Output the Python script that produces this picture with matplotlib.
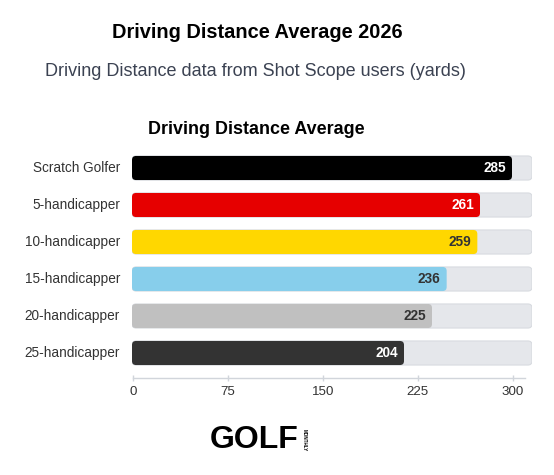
import matplotlib
matplotlib.use("Agg")
import matplotlib.pyplot as plt
from matplotlib.patches import FancyBboxPatch

categories = ["Scratch Golfer", "5-handicapper", "10-handicapper",
              "15-handicapper", "20-handicapper", "25-handicapper"]
values = [285, 261, 259, 236, 225, 204]
bar_colors = ["#000000", "#e60000", "#ffd700", "#87ceeb", "#c0c0c0", "#333333"]
label_colors = ["#ffffff", "#ffffff", "#333333", "#333333", "#333333", "#ffffff"]
track_max = 300
tick_values = [0, 75, 150, 225, 300]

W, H = 554, 475
plt.rcParams["font.family"] = ["Liberation Sans", "DejaVu Sans"]
fig = plt.figure(figsize=(W / 100, H / 100), dpi=100)

def fx(px):
    return px / W

def fy(py):
    return 1 - py / H

# titles
fig.text(fx(257), fy(33), "Driving Distance Average 2026", ha="center", va="center",
         fontsize=14.4, fontweight="bold", color="#000000")
fig.text(fx(255), fy(71), "Driving Distance data from Shot Scope users (yards)",
         ha="center", va="center", fontsize=13, color="#3b4252")
fig.text(fx(256), fy(129), "Driving Distance Average", ha="center", va="center",
         fontsize=12.9, fontweight="bold", color="#000000")

# main bar axes
left, right = 132, 532
top_px, bot_px = 149.5, 371.5
ax = fig.add_axes([fx(left), fy(bot_px), fx(right - left), (bot_px - top_px) / H])
ax.set_xlim(0, track_max)
ax.set_ylim(len(categories) - 0.5, -0.5)
ax.axis("off")

bar_h = 0.65
px_per_x = (right - left) / track_max
px_per_y = (bot_px - top_px) / len(categories)
r_px = 4
rx = r_px / px_per_x
aspect = (r_px / px_per_y) / rx

for i, (cat, v, c, lc) in enumerate(zip(categories, values, bar_colors, label_colors)):
    track = FancyBboxPatch((0, i - bar_h / 2), track_max, bar_h,
                           boxstyle=f"round,pad=0,rounding_size={rx}",
                           mutation_aspect=aspect, facecolor="#e5e7eb",
                           edgecolor="#d8dbe0", linewidth=0.8)
    ax.add_patch(track)
    bar = FancyBboxPatch((0, i - bar_h / 2), v, bar_h,
                         boxstyle=f"round,pad=0,rounding_size={rx}",
                         mutation_aspect=aspect, facecolor=c, edgecolor="none")
    ax.add_patch(bar)
    ax.text(v - 6 / px_per_x, i, str(v), ha="right", va="center",
            fontsize=9.8, fontweight="bold", color=lc)
    ax.text(-12 / px_per_x, i, cat, ha="right", va="center", fontsize=9.8,
            color="#333333", clip_on=False)

# tick axis (separate scale, as in the reference)
t_left, t_right, t_y = 133, 525, 378
t_max = (t_right - t_left) / ((513 - 133) / 300)
tax = fig.add_axes([fx(t_left), fy(t_y), fx(t_right - t_left), 0.001])
tax.set_xlim(0, t_max)
tax.set_yticks([])
for s in ["top", "left", "right"]:
    tax.spines[s].set_visible(False)
tax.spines["bottom"].set_color("#d1d5db")
tax.spines["bottom"].set_linewidth(1)
tax.patch.set_alpha(0)
tax.set_xticks(tick_values)
tax.set_xticklabels([str(t) for t in tick_values])
tax.tick_params(axis="x", direction="inout", length=5, width=1, color="#d1d5db",
                labelsize=9.6, labelcolor="#333333", pad=3)

# logo
fig.text(fx(254), fy(440), "GOLF", ha="center", va="center", fontsize=23,
         fontweight="bold", color="#000000")
fig.text(fx(304), fy(440), "MONTHLY", ha="center", va="center", fontsize=3.3,
         fontweight="bold", rotation=-90, color="#000000")

fig.savefig("out.png", dpi=100)
